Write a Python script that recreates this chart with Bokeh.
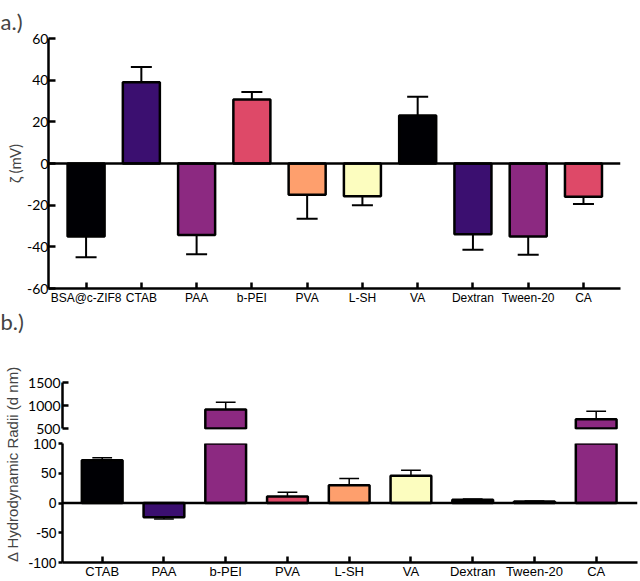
import numpy as np
from bokeh.plotting import figure
from bokeh.models import Span, Title, FixedTicker, Range1d
from bokeh.layouts import column, row
from bokeh.embed import file_html
from bokeh.resources import INLINE

# ---------------- data ----------------
cats_a = ["BSA@c-ZIF8", "CTAB", "PAA", "b-PEI", "PVA", "L-SH", "VA", "Dextran", "Tween-20", "CA"]
zeta = [-35.0, 39.0, -34.3, 30.7, -15.0, -15.7, 23.1, -34.0, -35.0, -16.0]
zeta_err = [10.0, 7.3, 9.2, 3.6, 11.5, 4.3, 9.0, 7.4, 8.8, 3.4]
zeta_ticks = [-60, -40, -20, 0, 20, 40, 60]

cats_b = ["CTAB", "PAA", "b-PEI", "PVA", "L-SH", "VA", "Dextran", "Tween-20", "CA"]
radii = [72.0, -24.0, 914.0, 11.0, 30.0, 46.0, 5.5, 2.5, 700.0]
radii_err = [4.0, 3.0, 157.0, 7.0, 11.0, 9.0, 1.2, 0.8, 175.0]
ticks_low = [-100, -50, 0, 50, 100]
ticks_high = [500, 1000, 1500]
break_low, break_high = 100, 500

magma6 = ["#000004", "#3B0F70", "#8C2981", "#DE4968", "#FE9F6D", "#FCFDBF"]

TICK_FONT = "Lato"
CAT_FONT = "Liberation Sans"


def style_common(p):
    p.outline_line_color = None
    p.xgrid.visible = False
    p.ygrid.visible = False
    p.background_fill_color = "white"
    p.border_fill_color = "white"


def style_axis(ax, ticks, labels, tick_in, tick_out, font, size, standoff):
    ax.ticker = FixedTicker(ticks=list(ticks))
    ax.major_label_overrides = {int(t): l for t, l in zip(ticks, labels)}
    ax.major_tick_in = tick_in
    ax.major_tick_out = tick_out
    ax.minor_tick_line_color = None
    ax.minor_tick_in = 0
    ax.minor_tick_out = 0
    ax.axis_line_width = 2.5
    ax.major_tick_line_width = 2.5
    ax.major_label_standoff = standoff
    ax.major_label_text_font = font
    ax.major_label_text_font_size = size
    ax.major_label_text_color = "black"


def draw_errors(p, x, v, e, cap, lw):
    x = np.asarray(x, float)
    v = np.asarray(v, float)
    e = np.asarray(e, float)
    tip = v + np.sign(v) * e
    p.segment(x0=x, y0=v, x1=x, y1=tip, line_color="black", line_width=lw)
    p.segment(x0=x - cap / 2, y0=tip, x1=x + cap / 2, y1=tip, line_color="black", line_width=lw)


# ---------------- panel a ----------------
xa = np.arange(len(cats_a))
cols_a = [magma6[i % 6] for i in range(len(cats_a))]

pA = figure(width=640, height=336, x_range=Range1d(-0.68, 9.67), y_range=Range1d(-60, 60),
            toolbar_location=None, output_backend="svg",
            min_border_left=48, min_border_right=20, min_border_top=38, min_border_bottom=44,
            title="a.)")
style_common(pA)
pA.title.align = "left"
pA.title.offset = -48
pA.title.text_font = TICK_FONT
pA.title.text_font_size = "22px"
pA.title.text_font_style = "normal"
pA.title.standoff = 8

pA.vbar(x=xa, bottom=0, top=zeta, width=0.67, fill_color=cols_a, line_color="black", line_width=2.5)
draw_errors(pA, xa, zeta, zeta_err, 0.38, 2)
pA.add_layout(Span(location=0, dimension="width", line_color="black", line_width=2.5))

style_axis(pA.xaxis[0], xa, cats_a, 6, 0, CAT_FONT, "12px", 2)
yax = pA.yaxis[0]
style_axis(yax, zeta_ticks, [str(t) for t in zeta_ticks], 7, 0, TICK_FONT, "14px", 0)
yax.axis_label = "ζ (mV)"
yax.axis_label_text_font = TICK_FONT
yax.axis_label_text_font_size = "15px"
yax.axis_label_text_font_style = "normal"
yax.axis_label_standoff = 0

pA.add_layout(Title(text="b.)", align="left", offset=-48, vertical_align="top",
                    text_line_height=0.9, text_font=TICK_FONT, text_font_size="22px",
                    text_font_style="normal", standoff=0), "below")

# ---------------- panel b ----------------
xb = np.arange(len(cats_b))
cols_b = [magma6[i % 6] for i in range(len(cats_b))]
rad = np.asarray(radii, float)
rerr = np.asarray(radii_err, float)
hi = rad > break_high

# top segment of the broken axis
pBt = figure(width=616, height=100, x_range=Range1d(-0.643, 8.669), y_range=Range1d(480, 1500),
             toolbar_location=None, output_backend="svg", x_axis_location=None,
             min_border_left=38, min_border_right=3, min_border_top=46, min_border_bottom=7)
style_common(pBt)
pBt.vbar(x=xb[hi], bottom=break_high, top=rad[hi], width=0.66,
         fill_color=[c for c, h in zip(cols_b, hi) if h], line_color="black", line_width=2.5)
draw_errors(pBt, xb[hi], rad[hi], rerr[hi], 0.32, 1.5)
yt = pBt.yaxis[0]
style_axis(yt, ticks_high, [str(t) for t in ticks_high], 6, 0, TICK_FONT, "14px", 2)
yt.bounds = (ticks_high[0], ticks_high[-1])

# bottom segment of the broken axis
pBb = figure(width=616, height=145, x_range=Range1d(-0.643, 8.669), y_range=Range1d(-100, 100),
             toolbar_location=None, output_backend="svg",
             min_border_left=38, min_border_right=3, min_border_top=7, min_border_bottom=18)
style_common(pBb)
pBb.vbar(x=xb, bottom=0, top=rad, width=0.66, fill_color=cols_b, line_color="black", line_width=2.5)
draw_errors(pBb, xb, rad, rerr, 0.32, 1.5)
pBb.add_layout(Span(location=0, dimension="width", line_color="black", line_width=2.5))
style_axis(pBb.xaxis[0], xb, cats_b, 6, 0, CAT_FONT, "13px", 1)
style_axis(pBb.yaxis[0], ticks_low, [str(t) for t in ticks_low], 0, 4, CAT_FONT, "14px", 2)

# shared y label for the broken axis
pL = figure(width=24, height=245, toolbar_location=None, output_backend="svg",
            x_axis_location=None, y_axis_location=None,
            min_border_left=0, min_border_right=0, min_border_top=10, min_border_bottom=0)
style_common(pL)
pL.add_layout(Title(text="Δ Hydrodynamic Radii (d nm)", align="center", text_font=CAT_FONT,
                    text_font_size="15px", text_font_style="normal", standoff=2), "left")

layout = column(pA, row(pL, column(pBt, pBb)))
open("out.html", "w").write(file_html(layout, INLINE))
